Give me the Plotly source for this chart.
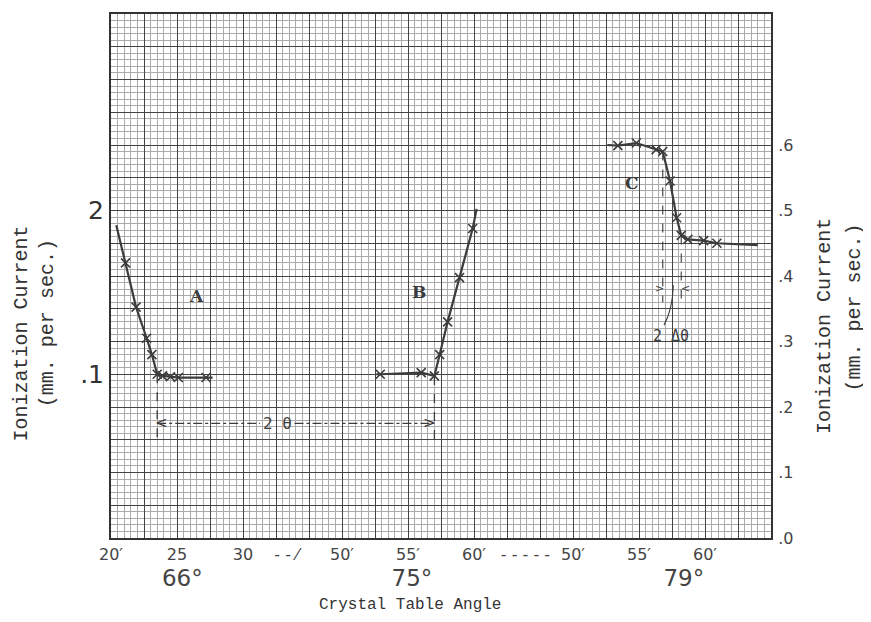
import plotly.graph_objects as go

# ---------------- data (angles in minutes of arc within each degree) ----------------
# Curve A : 66 degrees + minutes, left scale
A_min = [21.1, 21.9, 22.7, 23.1, 23.5, 23.9, 24.5, 25.1, 27.2]
A_val = [1.68, 1.41, 1.22, 1.12, 1.00, 0.99, 0.985, 0.98, 0.98]
A_start = (20.4, 1.91)
A_end = (27.7, 0.98)

# Curve B : 75 degrees + minutes, left scale
B_min = [52.9, 56.0, 57.0, 57.4, 58.0, 58.9, 59.9]
B_val = [1.00, 1.01, 0.99, 1.12, 1.32, 1.59, 1.89]
B_start = (52.6, 1.00)
B_end = (60.2, 2.01)

# Curve C : 79 degrees + minutes, right scale
C_min = [53.4, 54.8, 56.3, 57.35, 57.85, 58.7, 59.9, 60.9]
C_val = [0.599, 0.603, 0.593, 0.545, 0.489, 0.456, 0.454, 0.450]
C_corners = [(56.8, 0.590), (58.2, 0.462)]
C_start = (52.6, 0.600)
C_end = (64.0, 0.447)

# axis labels
x_tick_labels = ["20\u2032", "25", "30", "- - \u2044", "50\u2032", "55\u2032", "60\u2032",
                 "- - - - -", "50\u2032", "55\u2032", "60\u2032"]
x_tick_pos = [0, 5, 10, 13.3, 17.5, 22.5, 27.5, 31.4, 35, 40, 45]
deg_labels = ["66\u00b0", "75\u00b0", "79\u00b0"]
deg_pos = [5.4, 22.8, 43.4]
left_ticks = [1, 2]
left_ticktext = [".1", "2"]
right_ticks = [0, 0.1, 0.2, 0.3, 0.4, 0.5, 0.6]
right_ticktext = [".0", ".1", ".2", ".3", ".4", ".5", ".6"]

# segment offsets: plotted position = minutes - offset
OFF_A, OFF_B, OFF_C = 20.0, 32.5, 15.0


def pos(mins, off):
    return [m - off for m in mins]


INK = "#3c3c3c"
fig = go.Figure()


def add_curve(mins, vals, start, end, off, xa, ya):
    lx = [start[0]] + list(mins) + [end[0]]
    ly = [start[1]] + list(vals) + [end[1]]
    order = sorted(range(len(lx)), key=lambda i: lx[i])
    lx = [lx[i] for i in order]
    ly = [ly[i] for i in order]
    fig.add_trace(go.Scatter(x=pos(lx, off), y=ly, mode="lines", xaxis=xa, yaxis=ya,
                             line=dict(color=INK, width=2.2), hoverinfo="skip", showlegend=False))
    fig.add_trace(go.Scatter(x=pos(mins, off), y=vals, mode="markers", xaxis=xa, yaxis=ya,
                             marker=dict(symbol="x-thin", size=9, line=dict(color=INK, width=1.6)),
                             showlegend=False))


add_curve(A_min, A_val, A_start, A_end, OFF_A, "x", "y")
add_curve(B_min, B_val, B_start, B_end, OFF_B, "x2", "y2")
C_all_min = C_min + [c[0] for c in C_corners]
C_all_val = C_val + [c[1] for c in C_corners]
add_curve(C_all_min, C_all_val, C_start, C_end, OFF_C, "x3", "y3")

# ---------------- guide lines ----------------
shapes = []
A_corner = A_min[4] - OFF_A
B_corner = B_min[2] - OFF_B
arrow_y = 0.70
drop_y = 0.58
dash_style = dict(color=INK, width=1.3, dash="dash")
shapes.append(dict(type="line", xref="x", yref="y", x0=A_corner, x1=A_corner,
                   y0=A_val[4], y1=drop_y, line=dash_style))
shapes.append(dict(type="line", xref="x", yref="y", x0=B_corner, x1=B_corner,
                   y0=B_val[2], y1=drop_y, line=dash_style))
label_2t = 12.6
gap = 1.3
shapes.append(dict(type="line", xref="x", yref="y", x0=A_corner, x1=label_2t - gap,
                   y0=arrow_y, y1=arrow_y, line=dict(color=INK, width=1.4, dash="dashdot")))
shapes.append(dict(type="line", xref="x", yref="y", x0=label_2t + gap, x1=B_corner,
                   y0=arrow_y, y1=arrow_y, line=dict(color=INK, width=1.4, dash="dashdot")))

# C dashed lines
c_low = 0.36
for (cm, cv) in C_corners:
    shapes.append(dict(type="line", xref="x", yref="y3", x0=cm - OFF_C, x1=cm - OFF_C,
                       y0=cv, y1=c_low, line=dict(color=INK, width=1.1, dash="dash")))
c_mid = (C_corners[0][0] + C_corners[1][0]) / 2 - OFF_C
shapes.append(dict(type="path", xref="x", yref="y3",
                   path=f"M {c_mid + 0.1},0.386 Q {c_mid + 0.05},0.35 {c_mid - 0.6},0.325",
                   line=dict(color=INK, width=1.1)))

annotations = []


def note(**kw):
    kw.setdefault("showarrow", False)
    kw.setdefault("xanchor", "center")
    kw.setdefault("yanchor", "middle")
    annotations.append(kw)


note(x=A_corner + 0.35, y=arrow_y, xref="x", yref="y", text="<",
     font=dict(size=15, color=INK, family="DejaVu Sans"))
note(x=B_corner - 0.35, y=arrow_y, xref="x", yref="y", text=">",
     font=dict(size=15, color=INK, family="DejaVu Sans"))
note(x=label_2t, y=arrow_y, xref="x", yref="y", text="2 \u03b8",
     font=dict(size=16, color=INK, family="DejaVu Sans Mono"))
note(x=C_corners[0][0] - OFF_C - 0.25, y=0.381, xref="x", yref="y3", text=">",
     font=dict(size=11, color=INK, family="DejaVu Sans"))
note(x=C_corners[1][0] - OFF_C + 0.3, y=0.381, xref="x", yref="y3", text="<",
     font=dict(size=11, color=INK, family="DejaVu Sans"))
note(x=c_mid - 0.05, y=0.309, xref="x", yref="y3", text="2 \u0394\u03b8",
     font=dict(size=15, color=INK, family="DejaVu Sans Mono"))

for txt, xv, yv in [("A", 6.45, 1.48), ("B", 23.3, 1.50), ("C", 39.5, 2.17)]:
    note(x=xv, y=yv, xref="x", yref="y", text=f"<b>{txt}</b>",
         font=dict(size=17, color=INK, family="DejaVu Serif"))

TITLE_FONT = dict(family="Liberation Mono", size=20, color="#333")
note(x=-0.135, y=0.39, xref="paper", yref="paper", text="Ionization Current", textangle=-90,
     font=TITLE_FONT)
note(x=-0.097, y=0.41, xref="paper", yref="paper", text="(mm. per sec.)", textangle=-90,
     font=TITLE_FONT)
note(x=1.082, y=0.405, xref="paper", yref="paper", text="Ionization Current", textangle=-90,
     font=TITLE_FONT)
note(x=1.126, y=0.44, xref="paper", yref="paper", text="(mm. per sec.)", textangle=-90,
     font=TITLE_FONT)
note(x=0.453, y=-0.127, xref="paper", yref="paper", text="Crystal Table Angle",
     font=dict(family="Liberation Mono", size=16, color="#333"))

MAJOR = "#444444"
MINOR = "#ababab"
grid_x = dict(range=[0, 50], tick0=0, dtick=2.5, showgrid=True, gridcolor=MAJOR, gridwidth=1.2,
              minor=dict(tick0=0, dtick=0.5, showgrid=True, gridcolor=MINOR, gridwidth=0.6),
              showticklabels=False, ticks="", zeroline=False, showline=True, linecolor="#333",
              linewidth=1.6, mirror=True, fixedrange=True)
grid_y = dict(range=[0, 3.2], tick0=0, dtick=0.2, showgrid=True, gridcolor=MAJOR, gridwidth=1.2,
              minor=dict(tick0=0, dtick=0.04, showgrid=True, gridcolor=MINOR, gridwidth=0.6),
              showticklabels=False, ticks="", zeroline=False, showline=True, linecolor="#333",
              linewidth=1.6, mirror=True, fixedrange=True)

fig.update_layout(
    width=863, height=614, autosize=False,
    margin=dict(l=103, r=100, t=4, b=84),
    paper_bgcolor="white", plot_bgcolor="white",
    xaxis=grid_x,
    yaxis=grid_y,
    xaxis2=dict(overlaying="x", anchor="y", side="bottom", range=[0, 50], tickmode="array",
                tickvals=x_tick_pos, ticktext=x_tick_labels, showgrid=False, zeroline=False,
                showline=False, ticks="outside", ticklen=2, tickcolor="rgba(0,0,0,0)",
                tickfont=dict(family="DejaVu Sans", size=16, color="#444"), fixedrange=True),
    xaxis3=dict(overlaying="x", anchor="y", side="bottom", range=[0, 50], tickmode="array",
                tickvals=deg_pos, ticktext=deg_labels, showgrid=False, zeroline=False,
                showline=False, ticks="outside", ticklen=19, tickcolor="rgba(0,0,0,0)",
                tickfont=dict(family="DejaVu Sans", size=23, color="#444"), fixedrange=True),
    yaxis2=dict(overlaying="y", anchor="x", side="left", range=[0, 3.2], tickmode="array",
                tickvals=left_ticks, ticktext=left_ticktext, showgrid=False, zeroline=False,
                showline=False, ticks="outside", ticklen=1, tickcolor="rgba(0,0,0,0)",
                tickfont=dict(family="DejaVu Sans", size=25, color="#333"), fixedrange=True),
    yaxis3=dict(overlaying="y", anchor="x", side="right", range=[0, 0.8], tickmode="array",
                tickvals=right_ticks, ticktext=right_ticktext, showgrid=False, zeroline=False,
                showline=False, ticks="outside", ticklen=3, tickcolor="rgba(0,0,0,0)",
                tickfont=dict(family="DejaVu Sans", size=16, color="#444"), fixedrange=True),
    shapes=shapes,
    annotations=annotations,
)

fig.write_html("out.html")
